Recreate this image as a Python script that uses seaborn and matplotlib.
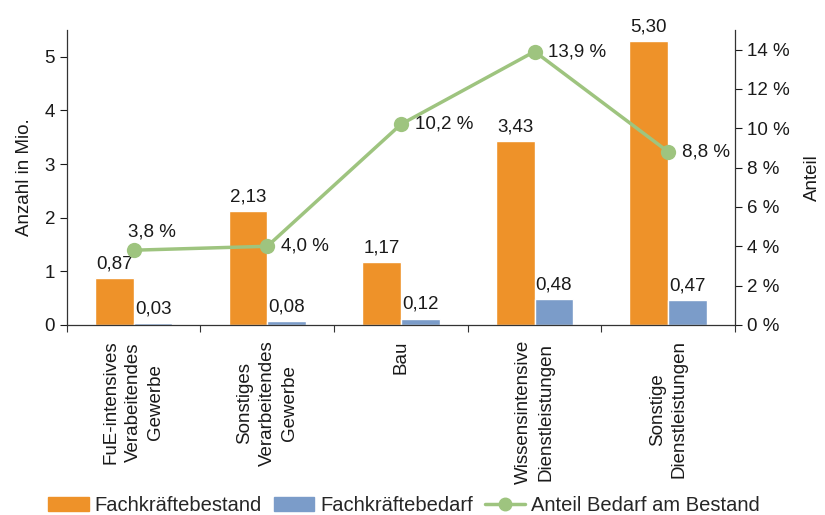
import numpy as np
import pandas as pd
import matplotlib
matplotlib.use('Agg')
import matplotlib.pyplot as plt
import seaborn as sns
from matplotlib.patches import Patch
from matplotlib.lines import Line2D

# Data
branchen = ['FuE-intensives\nVerabeitendes\nGewerbe',
            'Sonstiges\nVerarbeitendes\nGewerbe',
            'Bau',
            'Wissensintensive\nDienstleistungen',
            'Sonstige\nDienstleistungen']
bestand = [0.87, 2.13, 1.17, 3.43, 5.30]
bedarf = [0.03, 0.08, 0.12, 0.48, 0.47]
anteil = [3.8, 4.0, 10.2, 13.9, 8.8]

series_names = ['Fachkräftebestand', 'Fachkräftebedarf', 'Anteil Bedarf am Bestand']
c_orange = '#EE9229'
c_blue = '#7B9CC9'
c_green = '#9EC47F'

df = pd.DataFrame({
    'Branche': branchen * 2,
    'Wert': bestand + bedarf,
    'Serie': [series_names[0]] * 5 + [series_names[1]] * 5,
})

sns.set_theme(style='white')
plt.rcParams['font.family'] = ['Liberation Sans', 'DejaVu Sans']
fs = 13.5

fig = plt.figure(figsize=(8.25, 5.15), dpi=100)
ax = fig.add_axes([0.081, 0.369, 0.81, 0.573])

sns.barplot(data=df, x='Branche', y='Wert', hue='Serie', order=branchen,
            palette=[c_orange, c_blue], width=0.58, saturation=1,
            ax=ax, legend=False)

for cont in ax.containers:
    vals = [b.get_height() for b in cont]
    ax.bar_label(cont, labels=[f'{v:.2f}'.replace('.', ',') for v in vals],
                 padding=4, fontsize=fs, color='#1a1a1a')

ax.set_ylim(0, 5.5)
ax.set_xlim(-0.5, 4.5)
ax.set_yticks([0, 1, 2, 3, 4, 5])
ax.set_xlabel('')
ax.set_ylabel('Anzahl in Mio.', fontsize=fs, color='#1a1a1a', labelpad=8)
ax.tick_params(axis='y', labelsize=fs, colors='#1a1a1a', length=5, width=0.8, direction='out', left=True)
ax.set_xticks(range(5))
ax.set_xticklabels(branchen, rotation=90, fontsize=fs, color='#1a1a1a',
                   multialignment='center', linespacing=1.4)
ax.tick_params(axis='x', which='major', length=0, pad=11)
ax.set_xticks(np.arange(-0.5, 5, 1), minor=True)
ax.tick_params(axis='x', which='minor', length=5, width=0.8, direction='out', bottom=True, color='#333333')
for s in ['left', 'bottom']:
    ax.spines[s].set_color('#333333')
    ax.spines[s].set_linewidth(0.9)
ax.spines['top'].set_visible(False)
ax.spines['right'].set_visible(False)

ax2 = ax.twinx()
sns.lineplot(x=np.arange(5), y=anteil, ax=ax2, color=c_green, linewidth=2.5,
             marker='o', markersize=11, markeredgewidth=0, legend=False)
ax2.set_ylim(0, 15)
ax2.set_yticks(range(0, 15, 2))
ax2.set_yticklabels([f'{t} %' for t in range(0, 15, 2)])
ax2.tick_params(axis='y', labelsize=fs, colors='#1a1a1a', length=5, width=0.8, direction='out', right=True)
ax2.set_ylabel('Anteil', fontsize=fs, color='#1a1a1a', labelpad=10)
ax2.spines['right'].set_color('#333333')
ax2.spines['right'].set_linewidth(0.9)
for s in ['top', 'left', 'bottom']:
    ax2.spines[s].set_visible(False)

for i, v in enumerate(anteil):
    txt = f'{v:.1f} %'.replace('.', ',')
    if i == 0:
        ax2.annotate(txt, (i, v), xytext=(-4, 7), textcoords='offset points',
                     ha='left', va='bottom', fontsize=fs, color='#1a1a1a')
    else:
        ax2.annotate(txt, (i, v), xytext=(10, 0), textcoords='offset points',
                     ha='left', va='center', fontsize=fs, color='#1a1a1a')

handles = [Patch(color=c_orange), Patch(color=c_blue),
           Line2D([], [], color=c_green, linewidth=2.5, marker='o', markersize=9)]
fig.legend(handles, series_names, loc='lower center', bbox_to_anchor=(0.49, -0.035),
           ncol=3, frameon=False, fontsize=14.5, handlelength=2.0, handleheight=0.75,
           columnspacing=0.6, handletextpad=0.3)

fig.savefig('out.png', dpi=100)
